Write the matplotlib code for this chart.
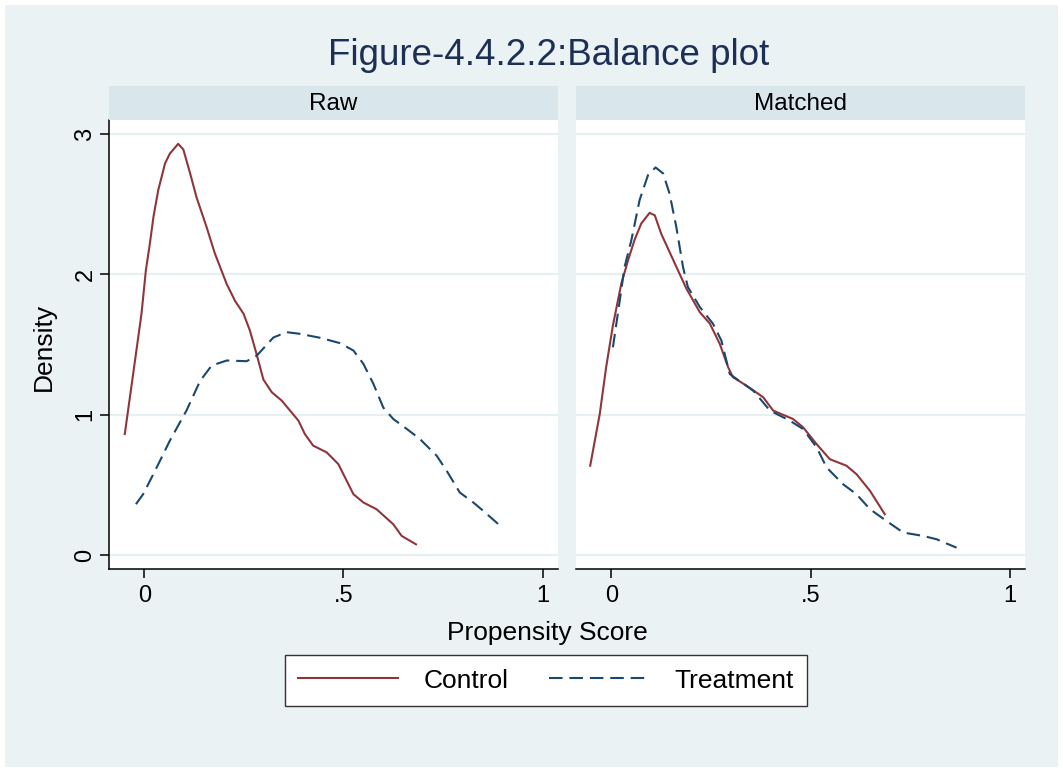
import matplotlib
matplotlib.use("Agg")
import matplotlib.pyplot as plt
from matplotlib.patches import Rectangle
from matplotlib.lines import Line2D

# ---------------- data ----------------
raw_ctrl_x = [-0.049, -0.028, -0.007, 0.004, 0.014, 0.023, 0.035, 0.052, 0.064, 0.085, 0.098,
              0.115, 0.131, 0.156, 0.177, 0.207, 0.228, 0.249, 0.265, 0.282, 0.299, 0.320,
              0.345, 0.387, 0.403, 0.424, 0.458, 0.487, 0.525, 0.550, 0.583, 0.625, 0.646, 0.682]
raw_ctrl_y = [0.862, 1.29, 1.72, 2.03, 2.22, 2.41, 2.60, 2.79, 2.86, 2.93, 2.89,
              2.72, 2.55, 2.34, 2.15, 1.93, 1.81, 1.72, 1.60, 1.43, 1.25, 1.16,
              1.10, 0.957, 0.862, 0.779, 0.731, 0.648, 0.433, 0.374, 0.326, 0.219, 0.136, 0.076]

raw_trt_x = [-0.021, -0.003, 0.027, 0.064, 0.106, 0.140, 0.169, 0.207, 0.257, 0.282, 0.324,
             0.357, 0.391, 0.441, 0.491, 0.525, 0.550, 0.575, 0.600, 0.625, 0.659, 0.692,
             0.734, 0.759, 0.792, 0.826, 0.851, 0.889]
raw_trt_y = [0.362, 0.433, 0.60, 0.814, 1.03, 1.24, 1.35, 1.386, 1.381, 1.42, 1.55,
             1.588, 1.576, 1.548, 1.51, 1.457, 1.362, 1.22, 1.05, 0.969, 0.898, 0.826,
             0.707, 0.60, 0.445, 0.374, 0.314, 0.219]

mat_ctrl_x = [-0.053, -0.029, -0.013, 0.004, 0.025, 0.042, 0.058, 0.075, 0.096, 0.109, 0.125,
              0.146, 0.167, 0.188, 0.222, 0.247, 0.272, 0.293, 0.305, 0.339, 0.381, 0.406,
              0.456, 0.481, 0.515, 0.548, 0.590, 0.615, 0.649, 0.686]
mat_ctrl_y = [0.636, 1.005, 1.338, 1.636, 1.933, 2.10, 2.243, 2.362, 2.438, 2.421, 2.29,
              2.16, 2.03, 1.90, 1.73, 1.65, 1.505, 1.338, 1.267, 1.207, 1.124, 1.029,
              0.969, 0.91, 0.79, 0.683, 0.636, 0.576, 0.457, 0.29]

mat_trt_x = [0.004, 0.021, 0.033, 0.050, 0.071, 0.092, 0.111, 0.130, 0.146, 0.163, 0.180,
             0.192, 0.222, 0.255, 0.276, 0.297, 0.314, 0.356, 0.398, 0.448, 0.481, 0.515,
             0.540, 0.581, 0.615, 0.649, 0.690, 0.732, 0.782, 0.816, 0.866]
mat_trt_y = [1.48, 1.81, 2.05, 2.24, 2.53, 2.707, 2.762, 2.719, 2.576, 2.338, 2.05,
             1.91, 1.767, 1.648, 1.529, 1.29, 1.255, 1.171, 1.029, 0.957, 0.898, 0.767,
             0.624, 0.505, 0.433, 0.326, 0.243, 0.16, 0.136, 0.112, 0.052]

panel_titles = ["Raw", "Matched"]
series_labels = ["Control", "Treatment"]
x_ticks = [0, 0.5, 1]
x_ticklabels = ["0", ".5", "1"]
y_ticks = [0, 1, 2, 3]
y_ticklabels = ["0", "1", "2", "3"]

# ---------------- style ----------------
W, H = 1063, 772
plt.rcParams['font.family'] = ['Liberation Sans', 'DejaVu Sans']
BG = '#EAF2F3'
STRIP = '#D9E6EB'
GRID = '#E6EFF2'
RED = '#90353B'
NAVY = '#1A476F'
TITLE_C = '#1E2F55'
LW = 1.5
DASH = (6.5, 3.3)

fig = plt.figure(figsize=(W / 100, H / 100), dpi=100)
fig.patch.set_facecolor('white')
fig.add_artist(Rectangle((5 / W, 5 / H), (W - 10) / W, (H - 10) / H,
                         transform=fig.transFigure, facecolor=BG,
                         edgecolor='none', zorder=0))


def rect(x0, y0, x1, y1):
    return [x0 / W, 1 - y1 / H, (x1 - x0) / W, (y1 - y0) / H]


panels = [
    (rect(109, 120, 557.7, 569.3), rect(109, 86, 557.7, 120),
     raw_ctrl_x, raw_ctrl_y, raw_trt_x, raw_trt_y, True),
    (rect(576, 120, 1025, 569.3), rect(576, 86, 1025, 120),
     mat_ctrl_x, mat_ctrl_y, mat_trt_x, mat_trt_y, False),
]

for i, (pos, spos, cx, cy, tx, ty, first) in enumerate(panels):
    ax = fig.add_axes(pos)
    ax.set_facecolor('white')
    ax.set_axisbelow(True)
    ax.plot(cx, cy, color=RED, lw=LW, solid_joinstyle='round')
    ax.plot(tx, ty, color=NAVY, lw=LW, dashes=DASH)
    ax.set_xlim(-0.0886, 1.0377)
    ax.set_ylim(-0.102, 3.1)
    ax.set_xticks(x_ticks)
    ax.set_xticklabels(x_ticklabels)
    ax.set_yticks(y_ticks)
    ax.set_yticklabels(y_ticklabels, rotation=90, va='center')
    ax.yaxis.grid(True, color=GRID, lw=1.6)
    for s in ['top', 'right']:
        ax.spines[s].set_visible(False)
    ax.spines['bottom'].set_linewidth(1.1)
    ax.spines['left'].set_linewidth(1.1)
    ax.tick_params(axis='both', labelsize=17, length=6.5, width=1.1,
                   color='black', labelcolor='black')
    ax.tick_params(axis='x', pad=4.5)
    ax.tick_params(axis='y', pad=2.5)
    if not first:
        ax.spines['left'].set_visible(False)
        ax.tick_params(axis='y', left=False, labelleft=False)
    sax = fig.add_axes(spos)
    sax.set_facecolor(STRIP)
    sax.set_xticks([])
    sax.set_yticks([])
    for s in sax.spines.values():
        s.set_visible(False)
    sax.text(0.5, 10 / 34, panel_titles[i], ha='center', va='baseline',
             fontsize=17.5, color='black', transform=sax.transAxes)

fig.text(549 / W, 1 - 65 / H, "Figure-4.4.2.2:Balance plot", ha='center',
         va='baseline', fontsize=26.5, color=TITLE_C)
fig.text(547 / W, 1 - 640 / H, "Propensity Score", ha='center', va='baseline',
         fontsize=19, color='black')
fig.text(44 / W, 1 - 347 / H, "Density", ha='center', va='center', rotation=90,
         fontsize=19, color='black')

handles = [Line2D([], [], color=RED, lw=LW),
           Line2D([], [], color=NAVY, lw=LW, dashes=DASH)]
leg = fig.legend(handles, series_labels, loc='center',
                 bbox_to_anchor=(546 / W, 1 - 680.5 / H), ncol=2,
                 frameon=True, fancybox=False, fontsize=19,
                 handlelength=3.8, handletextpad=0.95, columnspacing=1.56,
                 borderpad=0.5)
leg.get_frame().set_edgecolor('#333333')
leg.get_frame().set_linewidth(1.0)
leg.get_frame().set_facecolor('white')
leg.get_frame().set_alpha(1)

fig.savefig('out.png', dpi=100, facecolor=fig.get_facecolor())
